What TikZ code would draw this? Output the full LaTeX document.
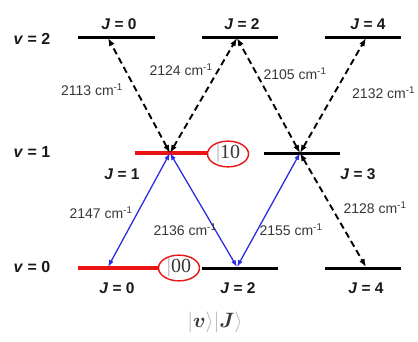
\documentclass[tikz,border=0pt]{standalone}
\usepackage{amsmath}
\usepackage{fontspec}
\setmainfont{Liberation Sans}
\newfontfamily\serifnum{Liberation Serif}
\usetikzlibrary{arrows.meta,shapes.geometric}
\definecolor{lvlred}{RGB}{235,20,20}
\definecolor{arrblue}{RGB}{45,45,225}
\definecolor{txtgray}{RGB}{55,55,55}
\definecolor{ketgray}{RGB}{175,175,175}
\begin{document}
\begin{tikzpicture}[x=1pt,y=-1pt,
  level/.style={line width=3pt, black},
  redlevel/.style={line width=4.6pt, lvlred},
  dasharrow/.style={line width=1.9pt, dash pattern=on 6.5pt off 4pt,
     {Latex[length=8pt,width=6pt]}-{Latex[length=8pt,width=6pt]}},
  bluearrow/.style={line width=1.3pt, arrblue,
     {Latex[length=7pt,width=5pt]}-{Latex[length=7pt,width=5pt]}},
  wn/.style={font=\fontsize{14}{16}\selectfont, text=txtgray, inner sep=0pt},
  jlab/.style={font=\fontsize{15.5}{17}\selectfont\bfseries, text=black!90, inner sep=0pt},
  vlab/.style={font=\fontsize{16}{18}\selectfont\bfseries, text=black!90, inner sep=0pt},
  ketcircle/.style={ellipse, draw=lvlred, line width=1.4pt, fill=white,
     minimum width=41pt, minimum height=25pt, inner sep=0pt,
     font=\fontsize{20}{22}\selectfont\serifnum, text=txtgray}
]
\useasboundingbox (0,0) rectangle (418,341);

% energy levels
\draw[level] (78,37) coordinate (t0l) -- (155,37) coordinate (t0r);
\draw[level] (202,37) coordinate (t2l) -- (278,37) coordinate (t2r);
\draw[level] (325,37) coordinate (t4l) -- (401,37) coordinate (t4r);
\draw[redlevel] (135,153) coordinate (m1l) -- (210,153) coordinate (m1r);
\draw[level] (264,153) coordinate (m3l) -- (340,153) coordinate (m3r);
\draw[redlevel] (78,268) coordinate (b0l) -- (158,268) coordinate (b0r);
\draw[level] (202,268) coordinate (b2l) -- (278,268) coordinate (b2r);
\draw[level] (325,268) coordinate (b4l) -- (401,268) coordinate (b4r);

% transition points
\coordinate (A) at (170,153);
\coordinate (B) at (300,153);
\coordinate (T0) at (108,38);
\coordinate (T2) at (237,38);
\coordinate (T4) at (366,38);
\coordinate (B0) at (108,267);
\coordinate (B2) at (237,267);
\coordinate (B4) at (366,267);

% dashed (hot band) transitions
\draw[dasharrow] (A) -- (T0);
\draw[dasharrow] (A) -- (T2);
\draw[dasharrow] (B) -- (T2);
\draw[dasharrow] (B) -- (T4);
\draw[dasharrow] (B) -- (B4);

% blue (fundamental) transitions
\draw[bluearrow] (A) -- (B0);
\draw[bluearrow] (A) -- (B2);
\draw[bluearrow] (B) -- (B2);

% wavenumber labels
\node[wn] (w2113) at (92,90) {2113 cm\textsuperscript{-1}};
\node[wn] (w2124) at (181,70) {2124 cm\textsuperscript{-1}};
\node[wn] (w2105) at (295,74) {2105 cm\textsuperscript{-1}};
\node[wn, anchor=west] (w2132) at (352,93) {2132 cm\textsuperscript{-1}};
\node[wn] (w2128) at (375,208) {2128 cm\textsuperscript{-1}};
\node[wn] (w2147) at (101,213) {2147 cm\textsuperscript{-1}};
\node[wn] (w2136) at (185,230) {2136 cm\textsuperscript{-1}};
\node[wn] (w2155) at (291,230) {2155 cm\textsuperscript{-1}};

% J labels
\node[jlab] (jt0) at (119,24) {\textit{J} = 0};
\node[jlab] (jt2) at (242,24) {\textit{J} = 2};
\node[jlab] (jt4) at (368,24) {\textit{J} = 4};
\node[jlab] (jm1) at (122,174) {\textit{J} = 1};
\node[jlab] (jm3) at (358,174) {\textit{J} = 3};
\node[jlab] (jb0) at (117,288) {\textit{J} = 0};
\node[jlab] (jb2) at (238,288) {\textit{J} = 2};
\node[jlab] (jb4) at (366,288) {\textit{J} = 4};

% v labels
\node[vlab] (v2) at (32,39) {\textit{v} = 2};
\node[vlab] (v1) at (32,152) {\textit{v} = 1};
\node[vlab] (v0) at (32,267) {\textit{v} = 0};

% ket circles
\node[ketcircle] (k10) at (228,154) {\textcolor{ketgray}{|}10};
\node[ketcircle] (k00) at (179,268) {\textcolor{ketgray}{|}00};

% basis label
\node[inner sep=0pt, font=\fontsize{20}{22}\selectfont] (basis) at (215,322)
  {$\color{ketgray}|\color{txtgray}\boldsymbol{v}\color{ketgray}\rangle|\color{txtgray}\boldsymbol{J}\color{ketgray}\rangle$};
\end{tikzpicture}
\end{document}
